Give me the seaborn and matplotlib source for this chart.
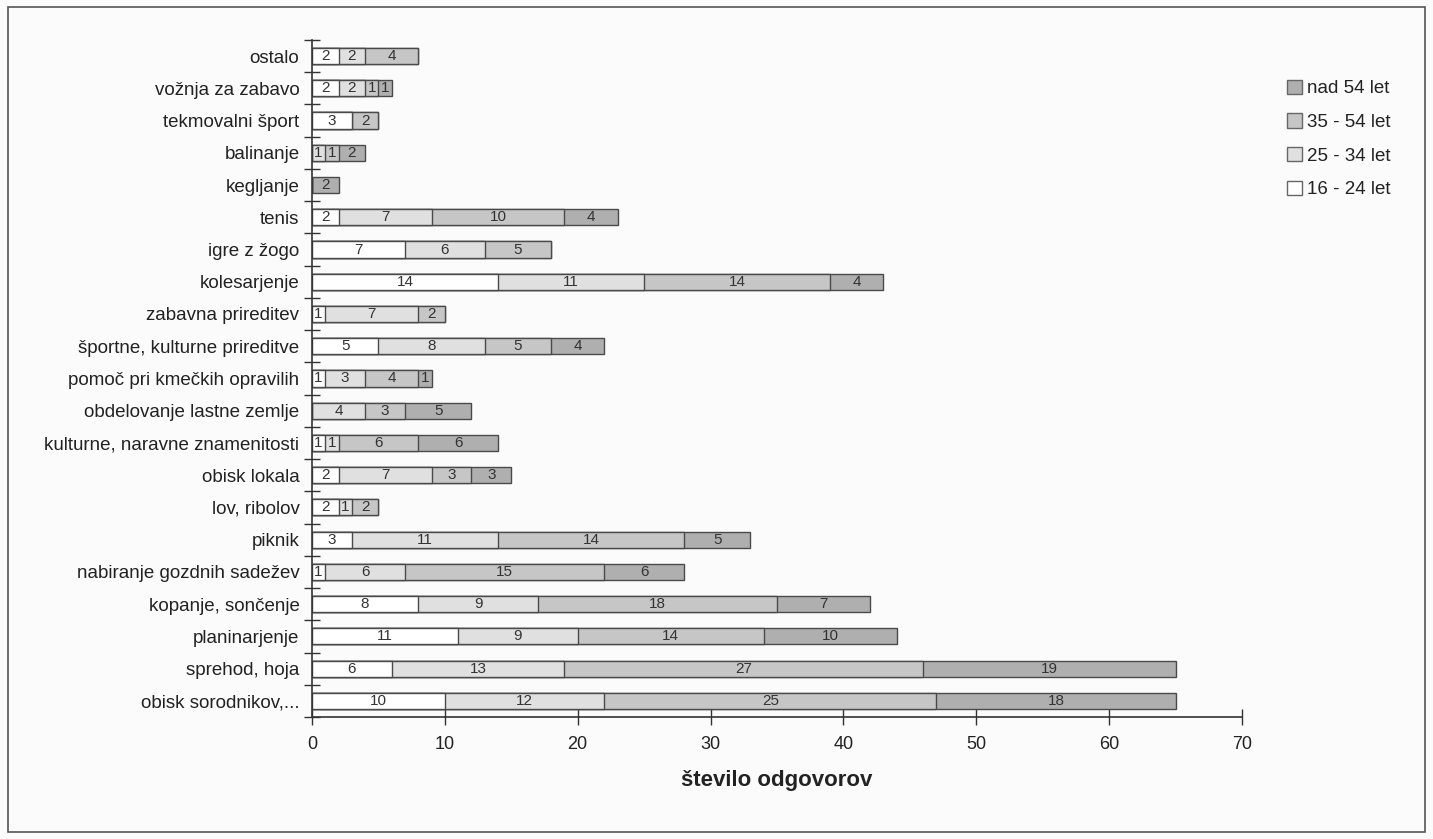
import numpy as np
import pandas as pd
import seaborn as sns
import matplotlib.pyplot as plt
from matplotlib.patches import Patch, Rectangle
from matplotlib.ticker import FixedLocator

# ─── Data ───────────────────────────────────────────────────────────────────────

categories = [
    "ostalo", "vožnja za zabavo", "tekmovalni šport", "balinanje", "kegljanje",
    "tenis", "igre z žogo", "kolesarjenje", "zabavna prireditev",
    "športne, kulturne prireditve", "pomoč pri kmečkih opravilih",
    "obdelovanje lastne zemlje", "kulturne, naravne znamenitosti", "obisk lokala",
    "lov, ribolov", "piknik", "nabiranje gozdnih sadežev", "kopanje, sončenje",
    "planinarjenje", "sprehod, hoja", "obisk sorodnikov,...",
]
age_16_24 = [2, 2, 3, 0, 0, 2, 7, 14, 1, 5, 1, 0, 1, 2, 2, 3, 1, 8, 11, 6, 10]
age_25_34 = [2, 2, 0, 1, 0, 7, 6, 11, 7, 8, 3, 4, 1, 7, 1, 11, 6, 9, 9, 13, 12]
age_35_54 = [4, 1, 2, 1, 0, 10, 5, 14, 2, 5, 4, 3, 6, 3, 2, 14, 15, 18, 14, 27, 25]
age_nad_54 = [0, 1, 0, 2, 2, 4, 0, 4, 0, 4, 1, 5, 6, 3, 0, 5, 6, 7, 10, 19, 18]

series_names = ["16 - 24 let", "25 - 34 let", "35 - 54 let", "nad 54 let"]
series_colors = ["#ffffff", "#e0e0e0", "#c6c6c6", "#afafaf"]
x_ticks = [0, 10, 20, 30, 40, 50, 60, 70]

# ─── Plot ───────────────────────────────────────────────────────────────────────

sns.set_style("white")
plt.rcParams["font.family"] = ["Liberation Sans", "DejaVu Sans"]

df = pd.DataFrame(
    np.array([age_16_24, age_25_34, age_35_54, age_nad_54]).T,
    columns=series_names,
)
df["kategorija"] = categories
cum = df[series_names].cumsum(axis=1)

fig = plt.figure(figsize=(14.33, 8.39), dpi=100, facecolor="#fbfbfb")
ax = fig.add_axes([0.2177, 0.1454, 0.6490, 0.8070])
ax.set_facecolor("#fbfbfb")

# stacked bars: draw cumulative totals from the outermost segment inward
edge = "#4a4a4a"
for name, color in reversed(list(zip(series_names, series_colors))):
    sns.barplot(
        x=cum[name], y=df["kategorija"], orient="h", order=categories,
        color=color, saturation=1, width=0.5,
        edgecolor=edge, linewidth=1.0, ax=ax,
    )

# segment value labels
for i, cat in enumerate(categories):
    for name in series_names:
        val = df.loc[i, name]
        if val > 0:
            ax.text(cum.loc[i, name] - val / 2, i, str(val), ha="center",
                    va="center", fontsize=11, color="#333333")

ax.set_xlim(0, 70)
ax.set_ylim(len(categories) - 0.5, -0.5)
ax.xaxis.set_major_locator(FixedLocator(x_ticks))
ax.set_xticklabels([str(t) for t in x_ticks], fontsize=13, color="#222222")
ax.tick_params(axis="x", bottom=True, direction="inout", length=12, width=1,
               color="#333333", pad=8)

# category labels without ticks, boundary ticks between categories
ax.tick_params(axis="y", which="major", left=False, length=0, pad=9,
               labelsize=13.5, labelcolor="#222222")
ax.yaxis.set_minor_locator(FixedLocator(np.arange(-0.5, len(categories), 1.0)))
ax.tick_params(axis="y", which="minor", left=True, direction="inout", length=11,
               width=1, color="#333333")

for s in ["top", "right"]:
    ax.spines[s].set_visible(False)
for s in ["left", "bottom"]:
    ax.spines[s].set_color("#333333")
    ax.spines[s].set_linewidth(1.2)

ax.set_ylabel("")
ax.set_xlabel("število odgovorov", fontsize=16, fontweight="bold", color="#222222", labelpad=12)

handles = [Patch(facecolor=c, edgecolor="#666666", label=n)
           for n, c in zip(series_names, series_colors)][::-1]
fig.legend(handles=handles, loc="upper left", bbox_to_anchor=(0.886, 0.925),
           frameon=False, fontsize=13.5, handlelength=0.8, handleheight=0.8,
           handletextpad=0.3, labelspacing=0.85, labelcolor="#222222")

# frame around the whole chart
fig.patches.append(Rectangle((8 / 1433, 7 / 839), 1417 / 1433, 825 / 839,
                             transform=fig.transFigure, fill=False,
                             edgecolor="#555555", linewidth=1.2))

fig.savefig("out.png", dpi=100, facecolor=fig.get_facecolor())
